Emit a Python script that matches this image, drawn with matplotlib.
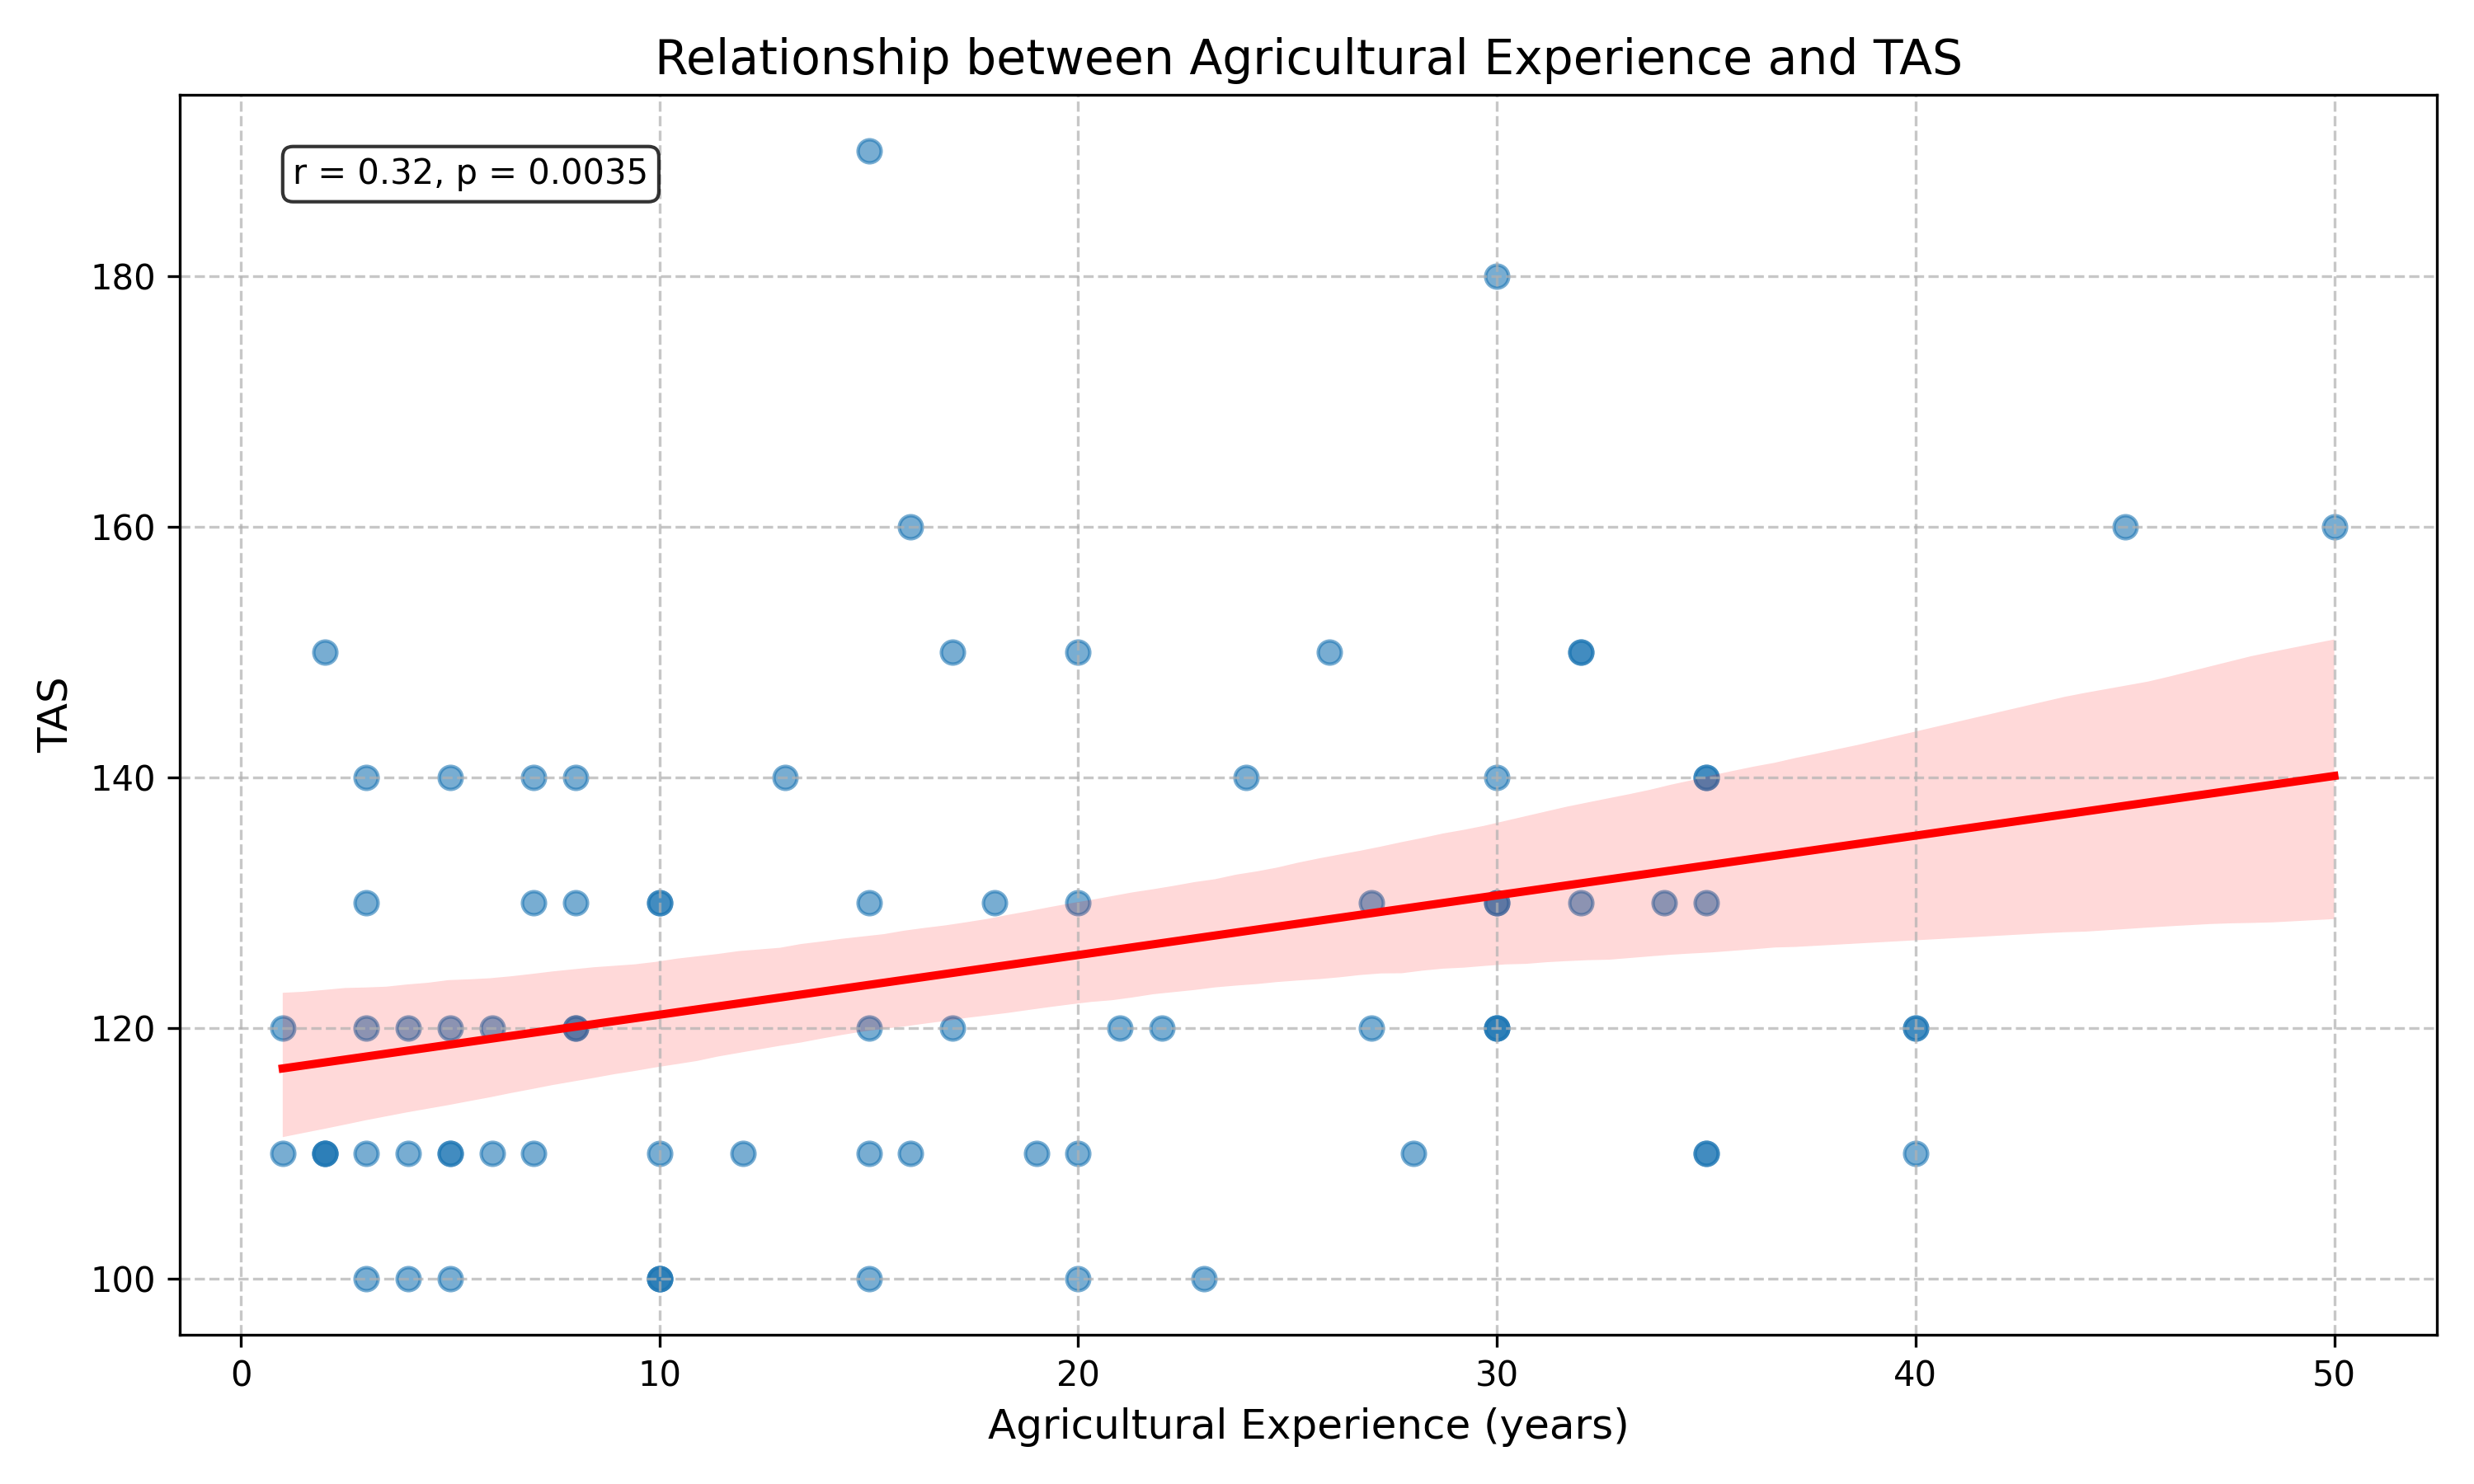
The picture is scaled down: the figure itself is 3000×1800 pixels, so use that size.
import numpy as np
import matplotlib
matplotlib.use("Agg")
import matplotlib.pyplot as plt
import seaborn as sns

# Agricultural experience (years) and TAS, grouped by TAS level
x_190 = [15]
x_180 = [30]
x_160 = [16, 45, 50]
x_150 = [2, 17, 20, 26, 32, 32]
x_140 = [3, 5, 7, 8, 13, 24, 30, 35, 35]
x_130 = [3, 7, 8, 10, 10, 15, 18, 20, 27, 30, 30, 32, 34, 35]
x_120 = [1, 3, 4, 5, 6, 8, 8, 15, 17, 21, 22, 27, 30, 30, 30, 40, 40]
x_110 = [1, 2, 2, 2, 3, 4, 5, 5, 6, 7, 10, 12, 15, 16, 19, 20, 28, 35, 35, 40]
x_100 = [3, 4, 5, 10, 10, 10, 15, 20, 23]

tas_levels = [190, 180, 160, 150, 140, 130, 120, 110, 100]
groups = [x_190, x_180, x_160, x_150, x_140, x_130, x_120, x_110, x_100]

experience = np.concatenate([np.array(g, dtype=float) for g in groups])
tas = np.concatenate([np.full(len(g), lvl, dtype=float) for g, lvl in zip(groups, tas_levels)])

annotation = "r = 0.32, p = 0.0035"

fig, ax = plt.subplots(figsize=(10, 6), dpi=300)
ax.scatter(experience, tas, alpha=0.6, s=45, color="#1f77b4")
sns.regplot(x=experience, y=tas, scatter=False, color="red",
            line_kws={"linewidth": 2.4}, ax=ax, seed=3)

ax.set_title("Relationship between Agricultural Experience and TAS", fontsize=14)
ax.set_xlabel("Agricultural Experience (years)", fontsize=12)
ax.set_ylabel("TAS", fontsize=12)
ax.grid(True, linestyle="--", alpha=0.7)
ax.text(0.05, 0.95, annotation, transform=ax.transAxes, fontsize=10,
        va="top", bbox=dict(boxstyle="round", facecolor="white", alpha=0.8))

fig.tight_layout()
fig.savefig("out.png", dpi=300)
print(np.polyfit(experience, tas, 1), len(experience), np.corrcoef(experience, tas)[0, 1])
